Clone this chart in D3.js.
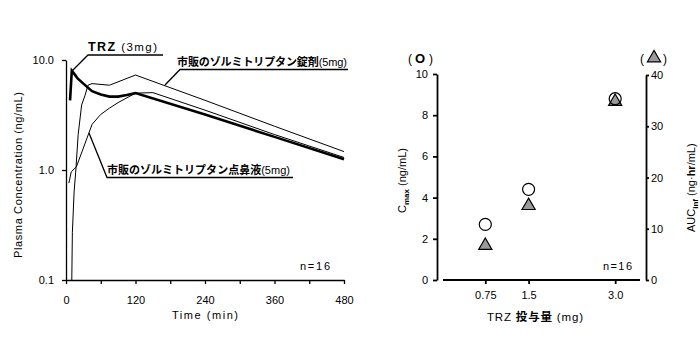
<!DOCTYPE html>
<html><head><meta charset="utf-8">
<script src="https://cdn.jsdelivr.net/npm/d3@7"></script>
<style>
body{margin:0;background:#fff;}
text{font-family:"Liberation Sans",Arial,sans-serif;fill:#000;}
.jp{font-family:"Noto Sans CJK JP","Liberation Sans",sans-serif;}
</style></head><body>
<svg id="c" width="700" height="344"></svg>
<script>
// ---- Left chart data (time in min, concentration in ng/mL) ----
const tTRZ = [7, 10, 15, 20, 30, 45, 60, 75, 90, 105, 120, 240, 360, 480];
const cTRZ = [4.3, 8.0, 7.4, 6.8, 6.1, 5.2, 4.85, 4.65, 4.65, 4.8, 5.0, 3.2, 2.0, 1.25];
const tTab = [10, 11, 14, 17, 21, 27, 33, 38, 45, 75, 120, 240, 360, 480];
const cTab = [0.1, 0.27, 0.63, 1.0, 2.1, 3.9, 4.8, 5.9, 6.1, 5.9, 7.3, 4.3, 2.5, 1.47];
const tNas = [5, 9, 18, 45, 60, 75, 90, 120, 150, 240, 360, 480];
const cNas = [0.76, 0.96, 1.07, 2.6, 3.2, 3.65, 4.1, 5.0, 5.05, 3.5, 2.1, 1.3];
const xTicksL = [0, 60, 120, 180, 240, 300, 360, 420, 480];
const xLabelsL = [0, 120, 240, 360, 480];
const yLabelsL = [0.1, 1, 10];
const yLabelTextL = ["0.1", "1.0", "10.0"];

// ---- Right chart data ----
const doses = [0.75, 1.5, 3.0];
const doseLabels = ["0.75", "1.5", "3.0"];
const cmax = [2.7, 4.4, 8.8];
const auc = [6.7, 14.5, 34.8];
const yTicksR1 = [0, 2, 4, 6, 8, 10];
const yTicksR2 = [0, 10, 20, 30, 40];

const svg = d3.select("#c");
svg.append("rect").attr("width",700).attr("height",344).attr("fill","#fff");

// ===== Left chart =====
const xL = d3.scaleLinear([0,480],[66,344]);
const yL = d3.scaleLog([0.1,10],[280,60]);

const gyL = svg.append("g").attr("transform","translate(66,0)");
gyL.call(d3.axisLeft(yL).tickValues(yL.ticks()).tickFormat("").tickSize(4).tickSizeOuter(0));
gyL.call(d3.axisLeft(yL).tickValues(yLabelsL).tickFormat((d,i)=>yLabelTextL[i]).tickSize(4).tickPadding(8).tickSizeOuter(0));
gyL.selectAll("text").attr("font-size",11).attr("font-family","Liberation Sans,Arial,sans-serif");
gyL.selectAll("path,line").attr("stroke","#000").attr("stroke-width",1.3);

const gxL = svg.append("g").attr("transform","translate(0,280)");
gxL.call(d3.axisBottom(xL).tickValues(xTicksL).tickFormat(d=>xLabelsL.includes(d)?d:"").tickSize(4).tickPadding(12).tickSizeOuter(0));
gxL.selectAll("text").attr("font-size",11).attr("font-family","Liberation Sans,Arial,sans-serif");
gxL.selectAll("path,line").attr("stroke","#000").attr("stroke-width",1.3);

svg.append("clipPath").attr("id","clipL").append("rect")
  .attr("x",66).attr("y",40).attr("width",290).attr("height",240);

const line = d3.line().x(d=>xL(d[0])).y(d=>yL(d[1]));
const gLines = svg.append("g").attr("clip-path","url(#clipL)");
gLines.append("path").datum(d3.zip(tTab,cTab)).attr("d",line).attr("fill","none").attr("stroke","#000").attr("stroke-width",1);
gLines.append("path").datum(d3.zip(tNas,cNas)).attr("d",line).attr("fill","none").attr("stroke","#000").attr("stroke-width",1);
gLines.append("path").datum(d3.zip(tTRZ,cTRZ)).attr("d",line).attr("fill","none").attr("stroke","#000").attr("stroke-width",2.6);

// Annotations
const ann = svg.append("g");
ann.append("polyline").attr("points","72,71 88,55 163,55").attr("fill","none").attr("stroke","#000").attr("stroke-width",1.3);
const t1 = ann.append("text").attr("x",88).attr("y",51).attr("font-size",12.5)
  .attr("textLength",69).attr("lengthAdjust","spacing");
t1.append("tspan").attr("font-weight","bold").text("TRZ");
t1.append("tspan").attr("font-size",11.5).text(" (3mg)");

ann.append("polyline").attr("points","165,85 180,69.5 348,69.5").attr("fill","none").attr("stroke","#000").attr("stroke-width",1.3);
const t2 = ann.append("text").attr("x",177).attr("y",66).attr("font-size",11)
  .attr("textLength",170).attr("lengthAdjust","spacing");
t2.append("tspan").attr("class","jp").attr("font-weight","bold").text("市販のゾルミトリプタン錠剤");
t2.append("tspan").text("(5mg)");

ann.append("polyline").attr("points","89,133 107,177.5 293,177.5").attr("fill","none").attr("stroke","#000").attr("stroke-width",1.3);
const t3 = ann.append("text").attr("x",107).attr("y",174).attr("font-size",11)
  .attr("textLength",183).attr("lengthAdjust","spacing");
t3.append("tspan").attr("class","jp").attr("font-weight","bold").text("市販のゾルミトリプタン点鼻液");
t3.append("tspan").text("(5mg)");

svg.append("text").attr("x",300).attr("y",270).attr("font-size",11).attr("textLength",30).attr("lengthAdjust","spacing").text("n=16");
svg.append("text").attr("x",172).attr("y",319).attr("font-size",11).attr("textLength",66).attr("lengthAdjust","spacing").text("Time (min)");
svg.append("text").attr("transform","translate(22,258) rotate(-90)").attr("font-size",11).attr("textLength",166).attr("lengthAdjust","spacing").text("Plasma Concentration (ng/mL)");

// ===== Right chart =====
const xR = d3.scaleLinear([0,3.43],[442,640]);
const yR1 = d3.scaleLinear([0,10],[280,74]);
const yR2 = d3.scaleLinear([0,40],[280,75]);

const gyR1 = svg.append("g").attr("transform","translate(437,0)");
gyR1.call(d3.axisLeft(yR1).tickValues(yTicksR1).tickSize(4).tickPadding(5).tickSizeOuter(0));
const gyR2 = svg.append("g").attr("transform","translate(646,0)");
gyR2.call(d3.axisRight(yR2).tickValues(yTicksR2).tickSize(3).tickPadding(2).tickSizeOuter(0));
const gxR = svg.append("g").attr("transform","translate(0,280)");
gxR.call(d3.axisBottom(xR).tickValues(doses).tickFormat((d,i)=>doseLabels[i]).tickSize(4).tickPadding(7).tickSizeOuter(0));
gxR.select("path.domain").attr("d","M443,0H640");
[gyR1,gyR2,gxR].forEach(g=>{
  g.selectAll("text").attr("font-size",11).attr("font-family","Liberation Sans,Arial,sans-serif");
  g.selectAll("path,line").attr("stroke","#000").attr("stroke-width",1.8);
});

// markers
const gm = svg.append("g");
const tri = d3.symbol().type(d3.symbolTriangle).size(75);
gm.selectAll("path.tri").data(d3.zip(doses,auc)).join("path").attr("class","tri")
  .attr("d",tri).attr("transform",d=>`translate(${xR(d[0])},${yR2(d[1])})`)
  .attr("fill","#9a9a9a").attr("stroke","#000").attr("stroke-width",1.2);
gm.selectAll("circle").data(d3.zip(doses,cmax)).join("circle")
  .attr("cx",d=>xR(d[0])).attr("cy",d=>yR1(d[1])).attr("r",6)
  .attr("fill",(d,i)=>i<2?"#fff":"none").attr("stroke","#000").attr("stroke-width",1.2);

svg.append("text").attr("x",603).attr("y",270).attr("font-size",11).attr("textLength",29).attr("lengthAdjust","spacing").text("n=16");

// titles (O) and (Δ)
const tO = svg.append("text").attr("x",408).attr("y",63).attr("font-size",12);
tO.append("tspan").text("(");
tO.append("tspan").attr("x",415).attr("font-weight","bold").attr("font-size",13).text("O");
tO.append("tspan").attr("x",429).text(")");
svg.append("text").attr("x",640).attr("y",63).attr("font-size",12).text("(");
svg.append("text").attr("x",663).attr("y",63).attr("font-size",12).text(")");
svg.append("path").attr("d",d3.symbol().type(d3.symbolTriangle).size(75)).attr("transform","translate(654,58)")
  .attr("fill","#9a9a9a").attr("stroke","#000").attr("stroke-width",1.2);

// axis titles
const tl = svg.append("text").attr("transform","translate(406,213) rotate(-90)").attr("font-size",11);
tl.append("tspan").text("C");
tl.append("tspan").attr("font-size",8).attr("font-weight","bold").attr("dy",3).text("max");
tl.append("tspan").attr("dy",-3).text(" (ng/mL)");

const tr = svg.append("text").attr("transform","translate(695,232) rotate(-90)").attr("font-size",11);
tr.append("tspan").text("AUC");
tr.append("tspan").attr("font-size",8).attr("font-weight","bold").attr("dy",3).text("inf");
tr.append("tspan").attr("dy",-3).text(" (ng·");
tr.append("tspan").attr("font-weight","bold").text("hr");
tr.append("tspan").text("/mL)");

const tx = svg.append("text").attr("x",487).attr("y",321).attr("font-size",11.5)
  .attr("textLength",96).attr("lengthAdjust","spacing");
tx.append("tspan").text("TRZ ");
tx.append("tspan").attr("class","jp").attr("font-weight","bold").text("投与量");
tx.append("tspan").text(" (mg)");
</script>
</body></html>
